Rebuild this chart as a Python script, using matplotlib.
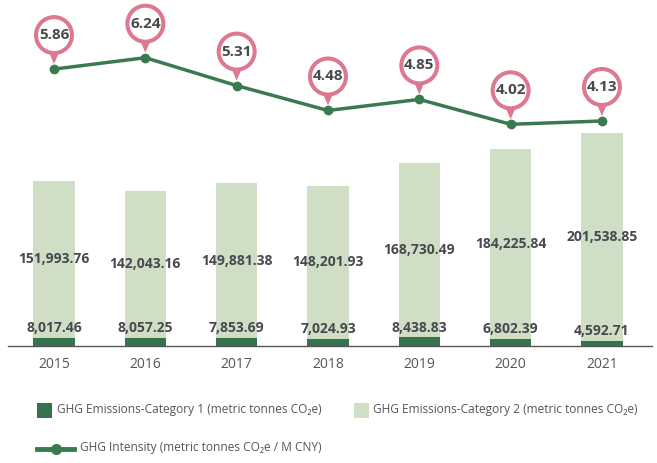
import matplotlib
matplotlib.use("Agg")
import matplotlib.pyplot as plt
from matplotlib.patches import Circle, Polygon, Rectangle
from matplotlib.lines import Line2D
from matplotlib.transforms import ScaledTranslation

plt.rcParams['font.family'] = ['Open Sans', 'DejaVu Sans']

years = ['2015', '2016', '2017', '2018', '2019', '2020', '2021']
cat1 = [8017.46, 8057.25, 7853.69, 7024.93, 8438.83, 6802.39, 4592.71]
cat2 = [151993.76, 142043.16, 149881.38, 148201.93, 168730.49, 184225.84, 201538.85]
intensity = [5.86, 6.24, 5.31, 4.48, 4.85, 4.02, 4.13]

DARK = '#36734c'
LIGHT = '#cfdfc6'
LINE = '#3a7a50'
PINK = '#de7890'
TXT = '#48484f'

W, H = 657, 463
fig = plt.figure(figsize=(W / 100, H / 100), dpi=100)
ax_left, ax_right, ax_top, ax_bot = 8, 652, 10, 346
ax = fig.add_axes([ax_left / W, 1 - ax_bot / H, (ax_right - ax_left) / W, (ax_bot - ax_top) / H])

x = list(range(len(years)))
ax.bar(x, cat1, width=0.45, color=DARK, zorder=2)
ax.bar(x, cat2, width=0.45, bottom=cat1, color=LIGHT, zorder=2)
ax.set_xlim(-0.504, 6.548)
ax.set_ylim(0, 325900)
for s in ['top', 'right', 'left']:
    ax.spines[s].set_visible(False)
ax.spines['bottom'].set_color('#555555')
ax.spines['bottom'].set_linewidth(1.0)
ax.set_yticks([])
ax.set_xticks(x)
ax.set_xticklabels(years, fontsize=10, color='#555555')
ax.tick_params(axis='x', length=0, pad=8)

for i in x:
    ax.annotate(f"{cat1[i]:,.2f}", (i, cat1[i]), xytext=(0, 2), textcoords='offset points',
                ha='center', va='bottom', fontsize=10, fontweight='bold', color=TXT, zorder=5)
    ax.text(i, cat1[i] + cat2[i] / 2, f"{cat2[i]:,.2f}", ha='center', va='center',
            fontsize=10, fontweight='bold', color=TXT, zorder=5)

ax2 = ax.twinx()
ax2.set_ylim(-3.37, 7.83)
ax2.axis('off')
ax2.plot(x, intensity, color=LINE, lw=2.5, marker='o', ms=6, zorder=3)

for i, v in zip(x, intensity):
    tr = fig.dpi_scale_trans + ScaledTranslation(i, v, ax2.transData)
    tail = Polygon([(-0.06, 0.19), (0.06, 0.19), (0, 0.05)], closed=True,
                   transform=tr, facecolor=PINK, edgecolor='none', zorder=6, clip_on=False)
    circ = Circle((0, 0.34), 0.18, transform=tr, facecolor='white', edgecolor=PINK,
                  lw=2.9, zorder=7, clip_on=False)
    ax2.add_patch(tail)
    ax2.add_patch(circ)
    ax2.annotate(f"{v:.2f}", (i, v), xytext=(0, 0.34 * 72), textcoords='offset points',
                 ha='center', va='center', fontsize=11, fontweight='bold', color=TXT, zorder=8)

# legend
def fy(py):
    return 1 - py / H

fig.patches.append(Rectangle((37 / W, fy(418)), 15 / W, 15 / H, transform=fig.transFigure,
                             facecolor=DARK, edgecolor='none'))
fig.text(57 / W, fy(410), "GHG Emissions-Category 1 (metric tonnes CO₂e)", fontsize=8.6,
         color='#555555', va='center', ha='left')
fig.patches.append(Rectangle((354 / W, fy(418)), 15 / W, 15 / H, transform=fig.transFigure,
                             facecolor=LIGHT, edgecolor='none'))
fig.text(373 / W, fy(410), "GHG Emissions-Category 2 (metric tonnes CO₂e)", fontsize=8.6,
         color='#555555', va='center', ha='left')
fig.lines.append(Line2D([37 / W, 74 / W], [fy(449), fy(449)], transform=fig.transFigure,
                        color=LINE, lw=3.5))
fig.lines.append(Line2D([55.5 / W], [fy(449)], transform=fig.transFigure, color=LINE,
                        marker='o', ms=7))
fig.text(80 / W, fy(448), "GHG Intensity (metric tonnes CO₂e / M CNY)", fontsize=8.6,
         color='#555555', va='center', ha='left')

fig.savefig("out.png", dpi=100)
